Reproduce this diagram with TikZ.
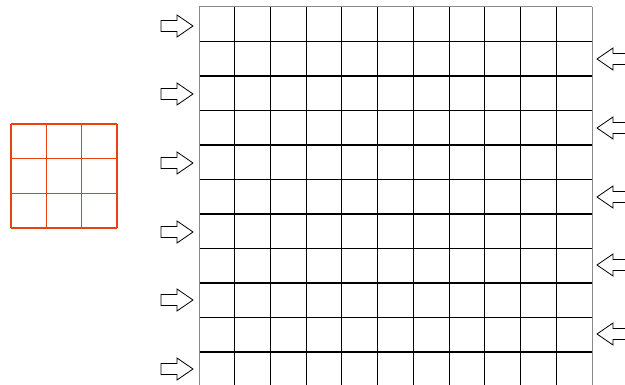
\documentclass[tikz,border=0pt]{standalone}
\definecolor{redgrid}{HTML}{E8420E}
\definecolor{edgegray}{HTML}{8A8A8A}
\tikzset{
  gridline/.style={line width=0.9pt, black},
  thickline/.style={line width=1.1pt, black},
  edgeline/.style={line width=1pt, edgegray},
  redline/.style={line width=1.1pt, redgrid},
  arrowshape/.style={line width=0.8pt, black, line join=miter, fill=white}
}
\begin{document}
\begin{tikzpicture}[x=1pt,y=-1pt]
\useasboundingbox (0,0) rectangle (625,385);
\clip (0,0) rectangle (625,385);
% red 3x3 grid
\foreach \i in {0,1,2,3} {
  \draw[redline] ({11+\i*35.33},124) -- ({11+\i*35.33},228);
  \draw[redline] (11,{124+\i*34.67}) -- (117,{124+\i*34.67});
}
% big grid
\foreach \i in {1,...,10} {
  \draw[gridline] ({199+\i*35.73},7) -- ({199+\i*35.73},390);
}
\foreach \j in {1,...,11} {
  \pgfmathtruncatemacro{\odd}{mod(\j,2)}
  \ifnum\odd=0
    \draw[thickline] (199,{7+\j*34.5}) -- (592,{7+\j*34.5});
  \else
    \draw[gridline] (199,{7+\j*34.5}) -- (592,{7+\j*34.5});
  \fi
}
\draw[edgeline] (199,7) -- (592,7);
\draw[edgeline] (199,7) -- (199,390);
\draw[edgeline] (592,7) -- (592,390);
% left arrows (pointing right)
\foreach \k/\cy in {1/26,2/94,3/163,4/232,5/300,6/369} {
  \draw[arrowshape] (161,{\cy-5.5}) -- (177,{\cy-5.5}) -- (177,{\cy-11}) -- (193,\cy)
    -- (177,{\cy+11}) -- (177,{\cy+5.5}) -- (161,{\cy+5.5}) -- cycle;
  \coordinate (la\k) at (193,\cy);
}
% right arrows (pointing left)
\foreach \k/\cy in {1/59,2/128,3/197,4/265,5/334} {
  \draw[arrowshape] (630,{\cy-5.5}) -- (613,{\cy-5.5}) -- (613,{\cy-11}) -- (597,\cy)
    -- (613,{\cy+11}) -- (613,{\cy+5.5}) -- (630,{\cy+5.5}) -- cycle;
  \coordinate (ra\k) at (597,\cy);
}
\end{tikzpicture}
\end{document}
